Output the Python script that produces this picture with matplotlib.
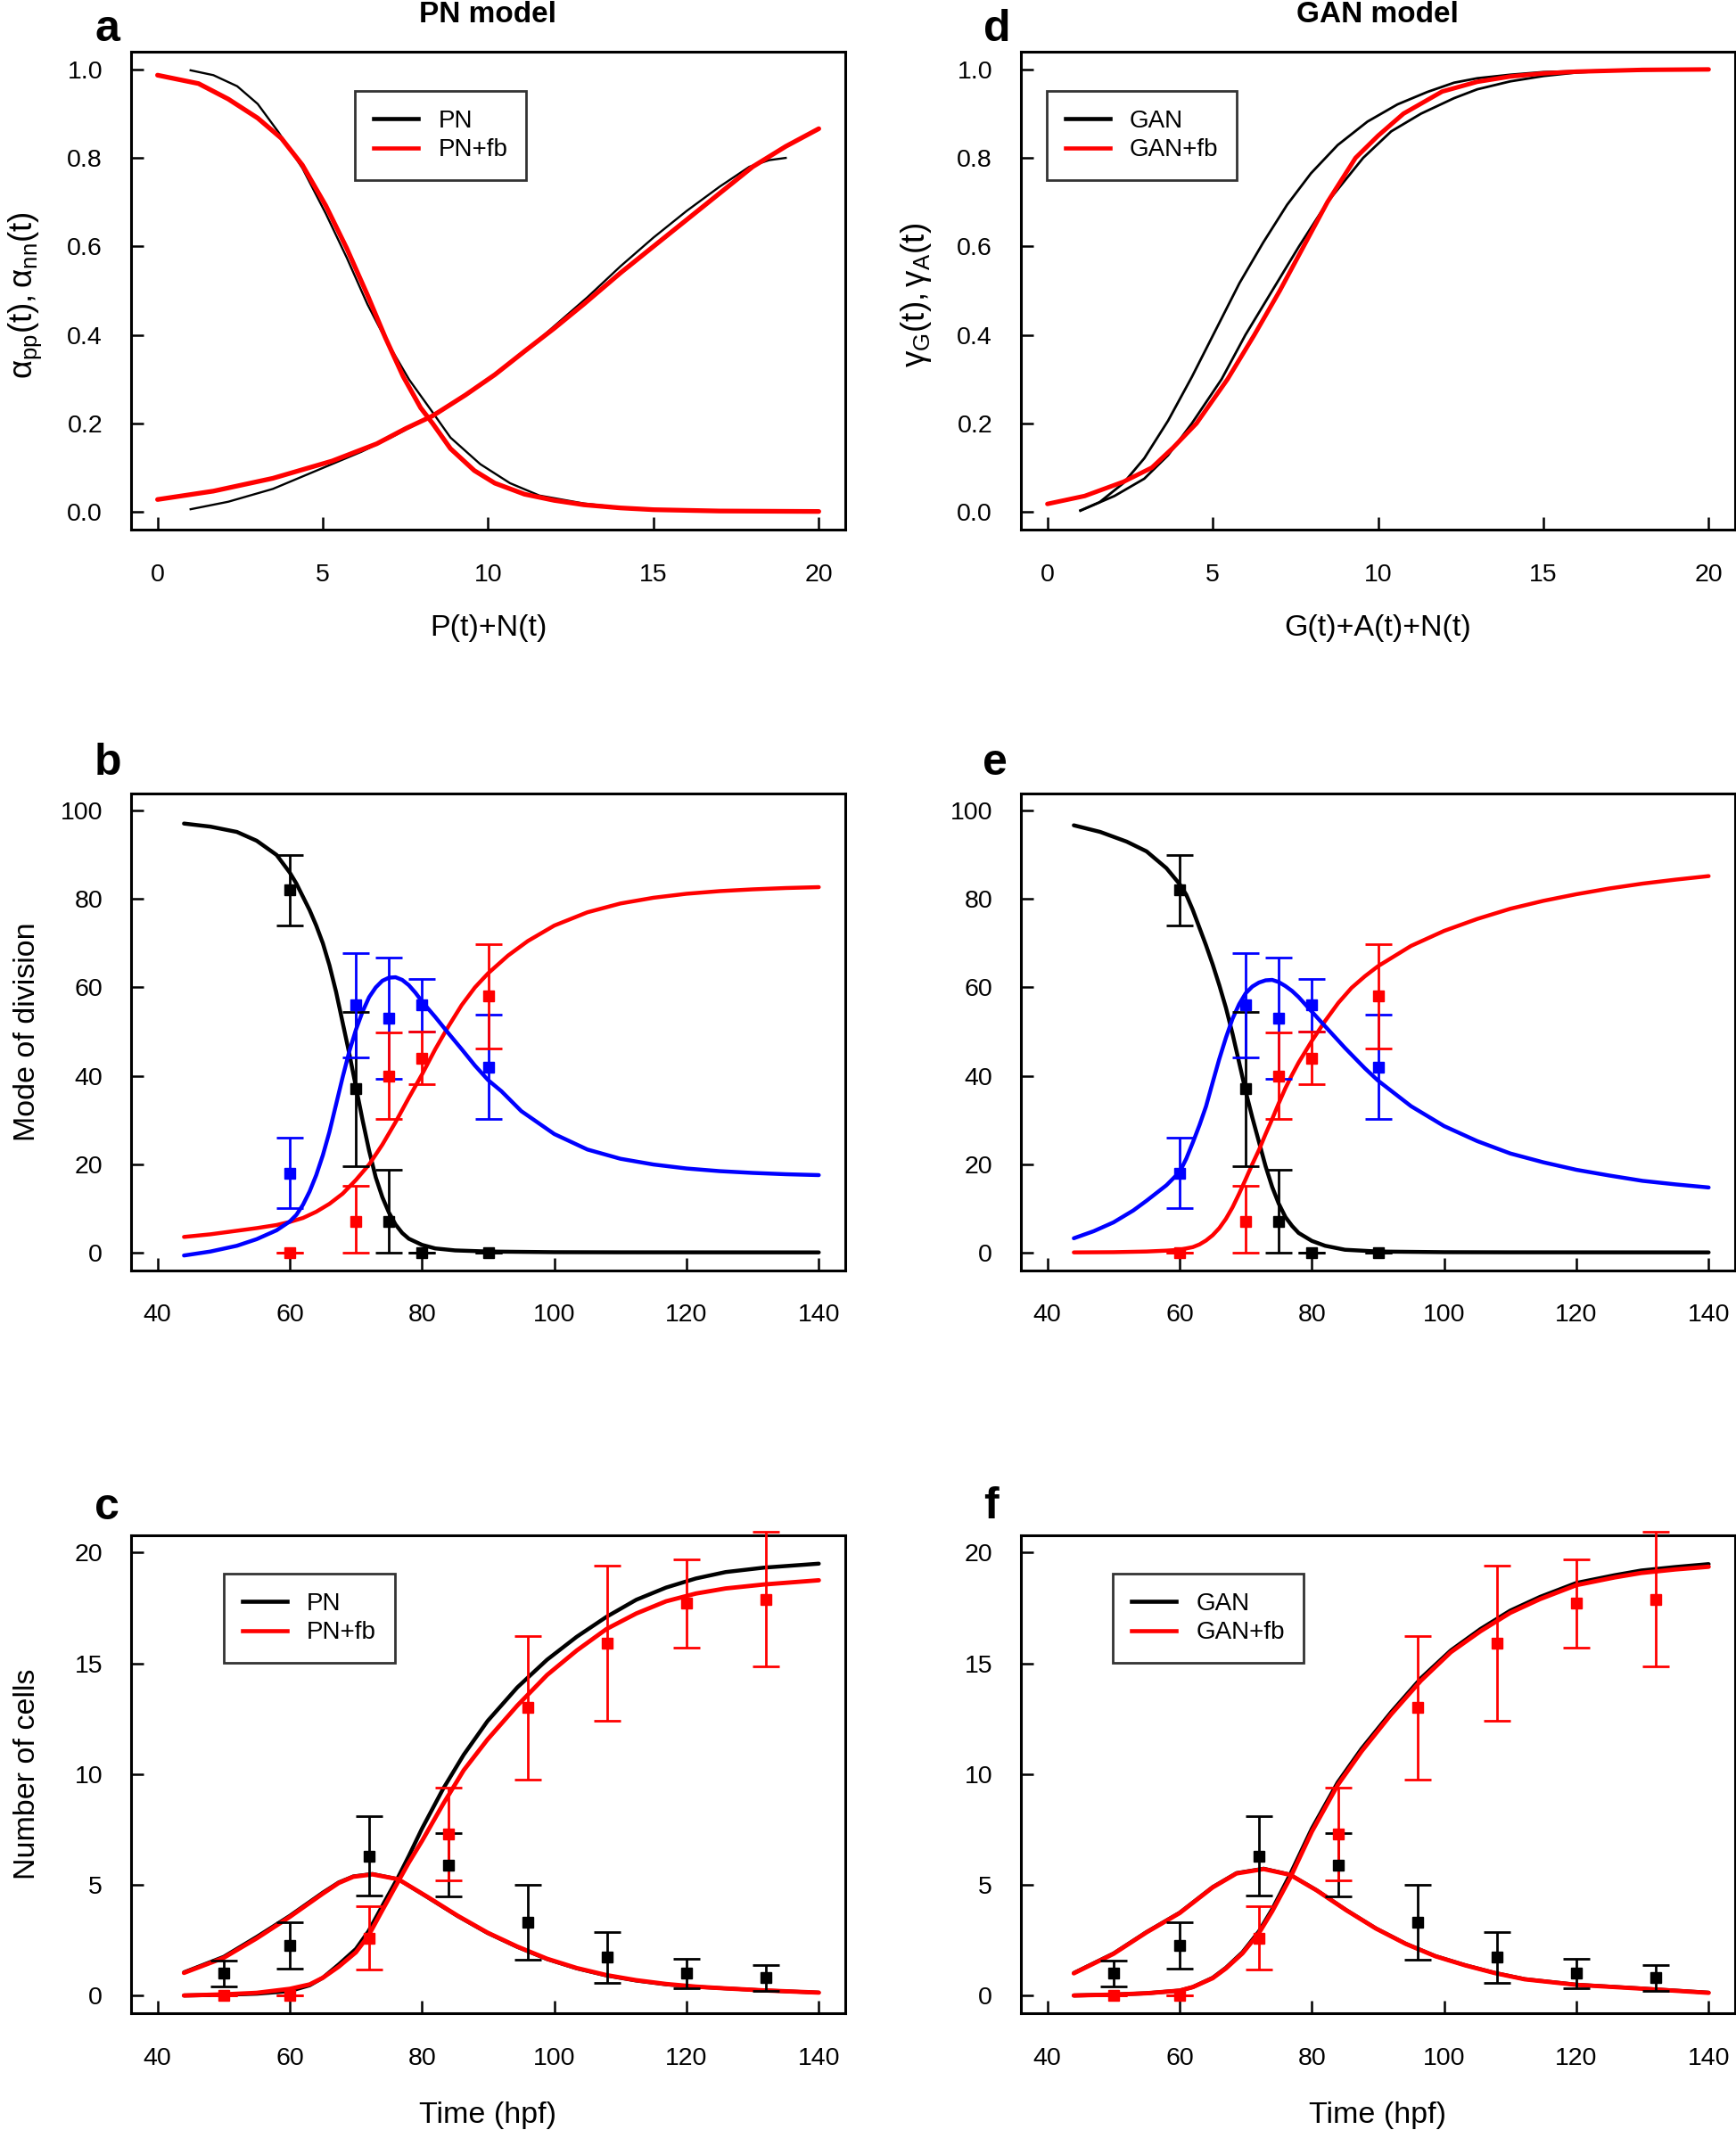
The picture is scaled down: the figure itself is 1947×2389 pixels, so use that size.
import matplotlib
matplotlib.use("Agg")
import matplotlib.pyplot as plt
from matplotlib.lines import Line2D
from matplotlib.ticker import FormatStrFormatter

plt.rcParams['font.family'] = ['Liberation Sans', 'DejaVu Sans']
plt.rcParams['mathtext.fontset'] = 'custom'
plt.rcParams['mathtext.rm'] = 'Liberation Sans'
plt.rcParams['mathtext.it'] = 'Liberation Sans:italic'
plt.rcParams['mathtext.default'] = 'regular'

BLACK, RED, BLUE = '#000000', '#ff0000', '#0000ff'

# ---------------- Panel a (PN model: alpha_pp, alpha_nn vs P+N) ----------------
a_pp_pn_x = [1.0, 1.69, 2.41, 3.03, 3.66, 4.38, 5.09, 5.72, 6.35, 6.89, 7.61, 8.32, 8.86,
             9.76, 10.66, 11.55, 12.9, 14, 15, 17, 19]
a_pp_pn_y = [0.998, 0.987, 0.962, 0.922, 0.858, 0.777, 0.674, 0.575, 0.469, 0.391, 0.299,
             0.225, 0.168, 0.108, 0.065, 0.037, 0.019, 0.010, 0.006, 0.002, 0.001]
a_pp_fb_x = [0, 1.24, 2.14, 3.03, 3.75, 4.38, 5.09, 5.72, 6.35, 6.89, 7.43, 7.96, 8.32, 8.86,
             9.58, 10.2, 11.1, 12.0, 12.9, 14, 15, 17, 20]
a_pp_fb_y = [0.987, 0.968, 0.933, 0.890, 0.844, 0.784, 0.692, 0.596, 0.490, 0.394, 0.306,
             0.235, 0.200, 0.143, 0.0935, 0.065, 0.040, 0.026, 0.016, 0.009, 0.005, 0.002, 0.001]
a_nn_pn_x = [1.0, 2.14, 3.49, 4.83, 6.17, 7.06, 8.0, 9.0, 10.0, 11.0, 12.0, 13.0, 14.0, 15.0,
             16.0, 17.0, 17.9, 18.5, 19.0]
a_nn_pn_y = [0.006, 0.023, 0.052, 0.094, 0.136, 0.168, 0.205, 0.25, 0.30, 0.355, 0.42, 0.485,
             0.555, 0.62, 0.68, 0.735, 0.78, 0.795, 0.80]
a_nn_fb_x = [0, 1.69, 3.49, 5.28, 6.63, 7.52, 8.32, 9.31, 10.2, 11.1, 12.0, 12.9, 14, 15, 16,
             17, 18, 19, 20]
a_nn_fb_y = [0.028, 0.047, 0.076, 0.115, 0.154, 0.189, 0.217, 0.264, 0.310, 0.363, 0.415,
             0.47, 0.54, 0.60, 0.66, 0.72, 0.78, 0.826, 0.866]

# ---------------- Panel d (GAN model: gamma_G, gamma_A vs G+A+N) ----------------
d_G_x = [1.0, 1.58, 2.30, 2.93, 3.65, 4.37, 5.09, 5.81, 6.53, 7.25, 7.97, 8.78, 9.68, 10.59,
         11.49, 12.3, 13, 14, 15, 17, 20]
d_G_y = [0.003, 0.022, 0.065, 0.121, 0.206, 0.305, 0.411, 0.517, 0.609, 0.694, 0.765, 0.829,
         0.882, 0.921, 0.949, 0.970, 0.980, 0.988, 0.994, 0.998, 1.0]
d_A_x = [1.0, 2.03, 2.93, 3.65, 4.37, 5.27, 5.99, 6.80, 7.61, 8.47, 9.55, 10.4, 11.3, 12.3,
         13, 14, 15, 16, 17, 20]
d_A_y = [0.003, 0.036, 0.075, 0.128, 0.2, 0.3, 0.4, 0.5, 0.6, 0.7, 0.8, 0.86, 0.9, 0.935,
         0.955, 0.973, 0.985, 0.993, 0.997, 1.0]
d_fb_x = [0, 1.13, 2.30, 3.16, 3.8, 4.51, 5.45, 6.26, 7.03, 7.75, 8.47, 9.32, 10.0, 10.77,
          11.94, 13, 14, 15, 16, 17, 18, 20]
d_fb_y = [0.018, 0.036, 0.068, 0.1, 0.145, 0.2, 0.3, 0.4, 0.5, 0.6, 0.7, 0.8, 0.85, 0.9,
          0.95, 0.972, 0.984, 0.991, 0.995, 0.997, 0.999, 1.0]

# ---------------- Panel b (PN model: mode of division) ----------------
b_pp_x = [44, 48, 52, 55, 58, 60, 61, 62, 63, 64, 65, 66, 67, 68, 69, 70, 71, 72, 73, 74, 75,
          76, 77, 78, 80, 82, 85, 90, 100, 110, 140]
b_pp_y = [97.1, 96.4, 95.2, 93.2, 90, 86, 83.5, 80.5, 77.5, 74, 70, 65, 59, 52, 45, 37.5, 30,
          23, 17, 12.5, 9, 6.3, 4.4, 3.1, 1.7, 0.9, 0.45, 0.2, 0.05, 0.02, 0]
b_nn_x = [44, 48, 52, 55, 58, 60, 62, 64, 66, 68, 70, 72, 74, 76, 78, 80, 82, 84, 86, 88, 90,
          93, 96, 100, 105, 110, 115, 120, 125, 130, 135, 140]
b_nn_y = [3.5, 4.1, 4.9, 5.5, 6.2, 6.9, 7.8, 9.2, 11, 13.3, 16.4, 19.9, 24.4, 29.5, 35, 40.3,
          46, 51.2, 56, 60, 63.2, 67.2, 70.5, 74, 77, 79, 80.3, 81.2, 81.8, 82.2, 82.5, 82.7]
b_pn_x = [44, 48, 52, 55, 58, 60, 61, 62, 63, 64, 65, 66, 67, 68, 69, 70, 71, 72, 73, 74, 75,
          76, 77, 78, 79, 80, 82, 84, 86, 88, 90, 92, 95, 100, 105, 110, 115, 120, 125, 130,
          135, 140]
b_pn_y = [-0.7, 0.2, 1.5, 3, 5.0, 7.0, 8.5, 10.8, 13.8, 17.5, 22, 27.3, 33.5, 39.7, 45.5, 50.4,
          54.5, 57.8, 60, 61.5, 62.2, 62.3, 61.7, 60.5, 58.8, 56.8, 53.3, 49.6, 46, 42.3, 39,
          36.5, 32, 26.8, 23.3, 21.2, 19.9, 19.0, 18.4, 18.0, 17.7, 17.5]

# ---------------- Panel e (GAN model: mode of division) ----------------
e_pp_x = [44, 48, 52, 55, 58, 60, 61, 62, 63, 64, 65, 66, 67, 68, 69, 70, 71, 72, 73, 74, 75,
          76, 77, 78, 80, 82, 85, 90, 100, 110, 140]
e_pp_y = [96.7, 95.2, 93, 90.8, 87, 83.4, 81, 77.5, 73.5, 69.5, 65.2, 60.5, 55.4, 49.5, 43,
          36.4, 30.5, 25, 19.5, 14.8, 11, 8, 6, 4.4, 2.6, 1.5, 0.6, 0.2, 0.05, 0.02, 0]
e_nn_x = [44, 50, 55, 58, 60, 62, 63, 64, 65, 66, 67, 68, 69, 70, 71, 72, 73, 74, 75, 76, 77,
          78, 80, 82, 84, 86, 88, 90, 95, 100, 105, 110, 115, 120, 125, 130, 135, 140]
e_nn_y = [0, 0.05, 0.2, 0.4, 0.6, 1.2, 1.8, 2.7, 3.9, 5.5, 7.6, 10.2, 13.3, 16.6, 20, 23.2,
          26.8, 30.2, 33.8, 37.2, 40.2, 43, 47.9, 52.4, 56.5, 59.9, 62.5, 64.8, 69.4, 72.8,
          75.5, 77.8, 79.6, 81.1, 82.4, 83.5, 84.4, 85.2]
e_pn_x = [44, 47, 50, 53, 55, 58, 60, 61, 62, 63, 64, 65, 66, 67, 68, 69, 70, 71, 72, 73, 74,
          75, 76, 77, 78, 80, 82, 85, 88, 90, 95, 100, 105, 110, 115, 120, 125, 130, 135, 140]
e_pn_y = [3.2, 4.8, 6.8, 9.5, 11.7, 15.2, 18.2, 21.2, 24.9, 28.8, 33.1, 38.5, 43.8, 48.6,
          52.9, 56.2, 58.7, 60.2, 61.1, 61.6, 61.7, 61.2, 60.3, 59.2, 57.8, 54.5, 51.2, 46.3,
          41.7, 38.9, 33.1, 28.6, 25.2, 22.4, 20.4, 18.7, 17.4, 16.2, 15.4, 14.7]

# ---------------- Mode of division data (b and e) ----------------
mod_x = [60, 70, 75, 80, 90]
mod_pp = [82, 37, 7, 0, 0]
mod_pp_lo = [8, 17.5, 7, 0, 0]
mod_pp_hi = [8, 17.5, 11.7, 0, 0]
mod_pn = [18, 56, 53, 56, 42]
mod_pn_err = [8, 11.8, 13.7, 5.9, 11.8]
mod_nn = [0, 7, 40, 44, 58]
mod_nn_lo = [0, 7, 9.8, 5.9, 11.8]
mod_nn_hi = [0, 8, 9.8, 5.9, 11.8]

# ---------------- Panel c (PN model: number of cells) ----------------
c_rise_x = [44, 50, 55, 60, 63, 65, 67.4, 70, 71.9, 74, 76.4, 78, 80, 83.2, 86.3, 89.9, 94.4,
            98.9, 103.4, 107.9, 112.4, 116.9, 121.4, 125.9, 131.7, 140]
c_rise_pn_y = [0.0, 0.03, 0.08, 0.2, 0.46, 0.8, 1.4, 2.1, 2.9, 4.05, 5.35, 6.3, 7.54, 9.34,
               10.87, 12.39, 13.91, 15.16, 16.2, 17.1, 17.87, 18.42, 18.83, 19.12, 19.32, 19.5]
c_rise_fb_y = [0.0, 0.05, 0.12, 0.3, 0.5, 0.8, 1.3, 1.95, 2.7, 3.85, 5.15, 6.0, 6.98, 8.65,
               10.17, 11.56, 13.09, 14.47, 15.58, 16.55, 17.25, 17.8, 18.15, 18.38, 18.56, 18.75]
c_hump_x = [44, 50, 55, 60, 65, 67.4, 69.6, 72.5, 76.4, 80.9, 85.4, 89.9, 94.4, 98.9, 103.4,
            107.9, 112.4, 116.9, 121.4, 125.9, 131.7, 140]
c_hump_pn_y = [1.05, 1.75, 2.65, 3.6, 4.65, 5.11, 5.38, 5.49, 5.25, 4.42, 3.58, 2.82, 2.19,
               1.64, 1.22, 0.9, 0.67, 0.50, 0.39, 0.32, 0.23, 0.13]
c_hump_fb_y = [1.02, 1.7, 2.58, 3.55, 4.6, 5.08, 5.36, 5.47, 5.25, 4.44, 3.6, 2.84, 2.21,
               1.66, 1.24, 0.92, 0.69, 0.52, 0.40, 0.32, 0.23, 0.13]

# ---------------- Panel f (GAN model: number of cells) ----------------
f_rise_x = [44, 50, 55, 60, 62, 65, 67, 69.5, 72, 74, 76.7, 80, 83.9, 87.5, 92, 96.5, 101,
            105.5, 110, 114.5, 120, 125.8, 129.8, 135, 140]
f_rise_gan_y = [0.0, 0.04, 0.1, 0.22, 0.38, 0.8, 1.25, 1.95, 2.9, 3.9, 5.46, 7.54, 9.62, 11.14,
                12.8, 14.33, 15.58, 16.55, 17.38, 18.0, 18.63, 18.98, 19.19, 19.35, 19.48]
f_rise_fb_y = [0.0, 0.04, 0.1, 0.22, 0.38, 0.78, 1.22, 1.9, 2.82, 3.8, 5.3, 7.4, 9.5, 11.02,
               12.7, 14.22, 15.5, 16.45, 17.28, 17.9, 18.53, 18.88, 19.08, 19.24, 19.36]
f_hump_x = [44, 50, 55, 60, 65, 68.6, 72.7, 76.7, 80.7, 85.2, 89.7, 94.2, 98.7, 103.2, 107.7,
            112.2, 120, 129.8, 140]
f_hump_gan_y = [1.02, 1.9, 2.87, 3.74, 4.9, 5.53, 5.73, 5.46, 4.76, 3.86, 3.03, 2.34, 1.78,
                1.37, 1.02, 0.74, 0.49, 0.32, 0.13]
f_hump_fb_y = [1.0, 1.88, 2.85, 3.72, 4.88, 5.51, 5.71, 5.45, 4.75, 3.85, 3.02, 2.33, 1.77,
               1.36, 1.01, 0.73, 0.48, 0.31, 0.12]

# ---------------- Number of cells data (c and f) ----------------
cell_x = [50, 60, 72, 84, 96, 108, 120, 132]
cell_prog = [1.0, 2.25, 6.3, 5.9, 3.3, 1.72, 1.0, 0.8]
cell_prog_err = [0.58, 1.05, 1.8, 1.43, 1.7, 1.15, 0.66, 0.58]
cell_neur = [0, 0, 2.6, 7.3, 13.0, 15.9, 17.7, 17.9]
cell_neur_err = [0, 0, 1.43, 2.1, 3.24, 3.5, 2.0, 3.05]

# ---------------- Figure ----------------
W, H = 1947, 2389
fig = plt.figure(figsize=(W / 100, H / 100), dpi=100)

L1, L2, AW = 147 / W, 1145 / W, 801 / W
pos = {
    'a': [L1, 1 - 594 / H, AW, 536 / H], 'd': [L2, 1 - 594 / H, AW, 536 / H],
    'b': [L1, 1 - 1424.5 / H, AW, 535 / H], 'e': [L2, 1 - 1424.5 / H, AW, 535 / H],
    'c': [L1, 1 - 2258 / H, AW, 536.5 / H], 'f': [L2, 1 - 2258 / H, AW, 536.5 / H],
}
axs = {k: fig.add_axes(v) for k, v in pos.items()}

TICK_FS = 20.5
LABEL_FS = 24.5


def style(ax, xlim, ylim, xticks, yticks, yfmt=None):
    ax.set_xlim(*xlim)
    ax.set_ylim(*ylim)
    ax.set_xticks(xticks)
    ax.set_yticks(yticks)
    if yfmt:
        ax.yaxis.set_major_formatter(FormatStrFormatter(yfmt))
    ax.tick_params(direction='in', length=10, width=1.8, labelsize=TICK_FS, pad=23)
    ax.tick_params(axis='x', pad=27)
    for s in ax.spines.values():
        s.set_linewidth(2.2)


def legend(ax, labels, anchor):
    handles = [Line2D([], [], color=BLACK, lw=3.3), Line2D([], [], color=RED, lw=3.3)]
    lg = ax.legend(handles, labels, loc='upper left', bbox_to_anchor=anchor,
                   borderaxespad=0, fontsize=20, frameon=True, fancybox=False,
                   edgecolor='black', handlelength=1.8, handletextpad=0.8,
                   borderpad=0.75, labelspacing=0.24)
    lg.get_frame().set_linewidth(2.0)
    lg.set_zorder(10)


# Panel a
ax = axs['a']
ax.plot(a_pp_pn_x, a_pp_pn_y, color=BLACK, lw=1.7)
ax.plot(a_nn_pn_x, a_nn_pn_y, color=BLACK, lw=1.7)
ax.plot(a_pp_fb_x, a_pp_fb_y, color=RED, lw=3.8, solid_capstyle='round')
ax.plot(a_nn_fb_x, a_nn_fb_y, color=RED, lw=3.8, solid_capstyle='round')
style(ax, (-0.8, 20.8), (-0.04, 1.04), [0, 5, 10, 15, 20], [0, 0.2, 0.4, 0.6, 0.8, 1.0], '%.1f')
legend(ax, ['PN', 'PN+fb'], (0.3137, 0.918))
ax.set_xlabel('P(t)+N(t)', fontsize=LABEL_FS)
ax.xaxis.set_label_coords(0.5, -0.177)
ax.set_ylabel(r'$\alpha_{pp}(t),\alpha_{nn}(t)$', fontsize=LABEL_FS + 2)
ax.yaxis.label.set_verticalalignment('center')
ax.yaxis.set_label_coords(-0.148, 0.49)

# Panel d
ax = axs['d']
ax.plot(d_G_x, d_G_y, color=BLACK, lw=2.0)
ax.plot(d_A_x, d_A_y, color=BLACK, lw=2.0)
ax.plot(d_fb_x, d_fb_y, color=RED, lw=3.6, solid_capstyle='round')
style(ax, (-0.8, 20.8), (-0.04, 1.04), [0, 5, 10, 15, 20], [0, 0.2, 0.4, 0.6, 0.8, 1.0], '%.1f')
legend(ax, ['GAN', 'GAN+fb'], (0.036, 0.918))
ax.set_xlabel('G(t)+A(t)+N(t)', fontsize=LABEL_FS)
ax.xaxis.set_label_coords(0.5, -0.177)
ax.set_ylabel(r'$\gamma_{G}(t),\gamma_{A}(t)$', fontsize=LABEL_FS + 2)
ax.yaxis.label.set_verticalalignment('center')
ax.yaxis.set_label_coords(-0.147, 0.49)


def mode_panel(ax, ppx, ppy, nnx, nny, pnx, pny):
    ax.plot(ppx, ppy, color=BLACK, lw=3.2, solid_capstyle='round')
    ax.plot(nnx, nny, color=RED, lw=3.2, solid_capstyle='round')
    ax.plot(pnx, pny, color=BLUE, lw=3.2, solid_capstyle='round')
    ekw = dict(fmt='s', ms=9, elinewidth=2.0, capsize=11, capthick=2.0, clip_on=False, zorder=5)
    ax.errorbar(mod_x, mod_pp, yerr=[mod_pp_lo, mod_pp_hi], color=BLACK, **ekw)
    ax.errorbar(mod_x, mod_pn, yerr=mod_pn_err, color=BLUE, **ekw)
    ax.errorbar(mod_x, mod_nn, yerr=[mod_nn_lo, mod_nn_hi], color=RED, **ekw)
    style(ax, (36, 144), (-4, 104), [40, 60, 80, 100, 120, 140], [0, 20, 40, 60, 80, 100])


mode_panel(axs['b'], b_pp_x, b_pp_y, b_nn_x, b_nn_y, b_pn_x, b_pn_y)
axs['b'].set_ylabel('Mode of division', fontsize=LABEL_FS)
axs['b'].yaxis.label.set_verticalalignment('center')
axs['b'].yaxis.set_label_coords(-0.146, 0.5)
mode_panel(axs['e'], e_pp_x, e_pp_y, e_nn_x, e_nn_y, e_pn_x, e_pn_y)


def cell_panel(ax, rx, r_black, r_red, hx, h_black, h_red):
    ax.plot(rx, r_black, color=BLACK, lw=3.2, solid_capstyle='round')
    ax.plot(hx, h_black, color=BLACK, lw=3.0, solid_capstyle='round')
    ax.plot(rx, r_red, color=RED, lw=3.5, solid_capstyle='round')
    ax.plot(hx, h_red, color=RED, lw=3.5, solid_capstyle='round')
    ekw = dict(fmt='s', ms=9, elinewidth=2.0, capsize=11, capthick=2.0, clip_on=False, zorder=5)
    ax.errorbar(cell_x, cell_prog, yerr=cell_prog_err, color=BLACK, **ekw)
    ax.errorbar(cell_x, cell_neur, yerr=cell_neur_err, color=RED, **ekw)
    style(ax, (36, 144), (-0.8, 20.8), [40, 60, 80, 100, 120, 140], [0, 5, 10, 15, 20])
    ax.set_xlabel('Time (hpf)', fontsize=LABEL_FS)
    ax.xaxis.set_label_coords(0.5, -0.184)


cell_panel(axs['c'], c_rise_x, c_rise_pn_y, c_rise_fb_y, c_hump_x, c_hump_pn_y, c_hump_fb_y)
legend(axs['c'], ['PN', 'PN+fb'], (0.130, 0.919))
axs['c'].set_ylabel('Number of cells', fontsize=LABEL_FS)
axs['c'].yaxis.label.set_verticalalignment('center')
axs['c'].yaxis.set_label_coords(-0.146, 0.5)

cell_panel(axs['f'], f_rise_x, f_rise_gan_y, f_rise_fb_y, f_hump_x, f_hump_gan_y, f_hump_fb_y)
legend(axs['f'], ['GAN', 'GAN+fb'], (0.129, 0.919))

# Panel letters and titles
letters = [('a', 106, 46), ('d', 1103, 46), ('b', 106, 869), ('e', 1102, 869),
           ('c', 106, 1704), ('f', 1103, 1703)]
for t, px, py in letters:
    fig.text(px / W, 1 - py / H, t, fontsize=36, fontweight='bold', ha='left', va='baseline')
fig.text(547 / W, 1 - 25 / H, 'PN model', fontsize=24, fontweight='bold', ha='center',
         va='baseline')
fig.text(1545 / W, 1 - 25 / H, 'GAN model', fontsize=24, fontweight='bold', ha='center',
         va='baseline')

fig.savefig('out.png', dpi=100)
